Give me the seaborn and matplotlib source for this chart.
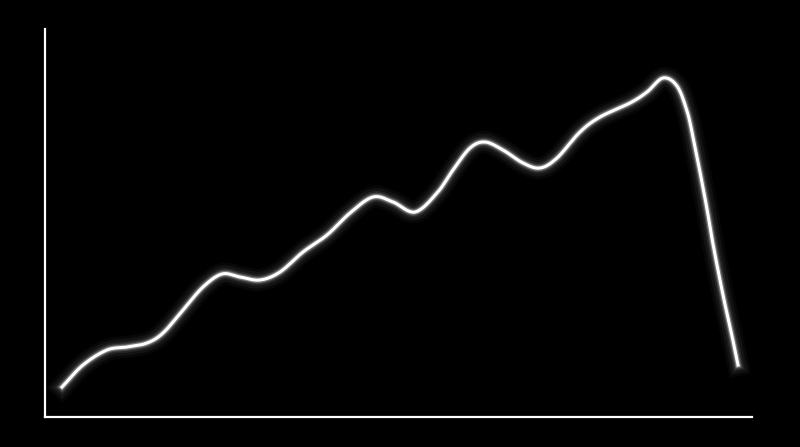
import numpy as np
import pandas as pd
import matplotlib
matplotlib.use('Agg')
import matplotlib.pyplot as plt
import seaborn as sns

# values (x from left axis, y up from bottom axis)
x_vals = [17, 38, 62, 82, 102, 118, 138, 158, 177, 195, 215, 235, 258, 282,
          305, 328, 348, 370, 392, 408, 425, 440, 458, 478, 495, 512, 535,
          555, 585, 602, 618, 632, 642, 648, 655, 662, 668, 678, 687, 693]
y_vals = [30, 52, 67, 70, 74, 84, 107, 130, 143, 140, 137, 145, 165, 182,
          204, 220, 215, 205, 224, 247, 269, 275, 267, 254, 249, 259, 285,
          300, 314, 325, 339, 331, 306, 280, 245, 208, 173, 122, 81, 52]


def smooth(xs, ys, n=20):
    # Catmull-Rom path through the read points
    p = np.column_stack([xs, ys]).astype(float)
    p = np.vstack([2 * p[0] - p[1], p, 2 * p[-1] - p[-2]])
    out = []
    t = np.linspace(0, 1, n, endpoint=False)[:, None]
    for i in range(1, len(p) - 2):
        p0, p1, p2, p3 = p[i - 1], p[i], p[i + 1], p[i + 2]
        seg = 0.5 * ((2 * p1) + (-p0 + p2) * t + (2 * p0 - 5 * p1 + 4 * p2 - p3) * t ** 2
                     + (-p0 + 3 * p1 - 3 * p2 + p3) * t ** 3)
        out.append(seg)
    out.append(p[-2][None, :])
    out = np.vstack(out)
    return pd.DataFrame({'x': out[:, 0], 'y': out[:, 1], 'order': np.arange(len(out))})


df = smooth(x_vals, y_vals)

fig = plt.figure(figsize=(8, 4.47), dpi=100, facecolor='black')
ax = fig.add_axes([45 / 800, 30 / 447, 707 / 800, 388 / 447])
ax.set_facecolor('black')

# glow
for lw, a in [(16, 0.03), (12, 0.05), (8, 0.08), (5.5, 0.15), (3.8, 0.3)]:
    sns.lineplot(data=df, x='x', y='y', sort=False, estimator=None, ax=ax,
                 color='white', linewidth=lw, alpha=a)
sns.lineplot(data=df, x='x', y='y', sort=False, estimator=None, ax=ax,
             color='white', linewidth=2.2)

ax.set_xlim(0, 707)
ax.set_ylim(0, 388)
ax.set_xticks([])
ax.set_yticks([])
ax.set_xlabel('')
ax.set_ylabel('')
for s in ['top', 'right']:
    ax.spines[s].set_visible(False)
for s in ['left', 'bottom']:
    ax.spines[s].set_color('white')
    ax.spines[s].set_linewidth(1.6)

fig.savefig('out.png', dpi=100, facecolor='black')
